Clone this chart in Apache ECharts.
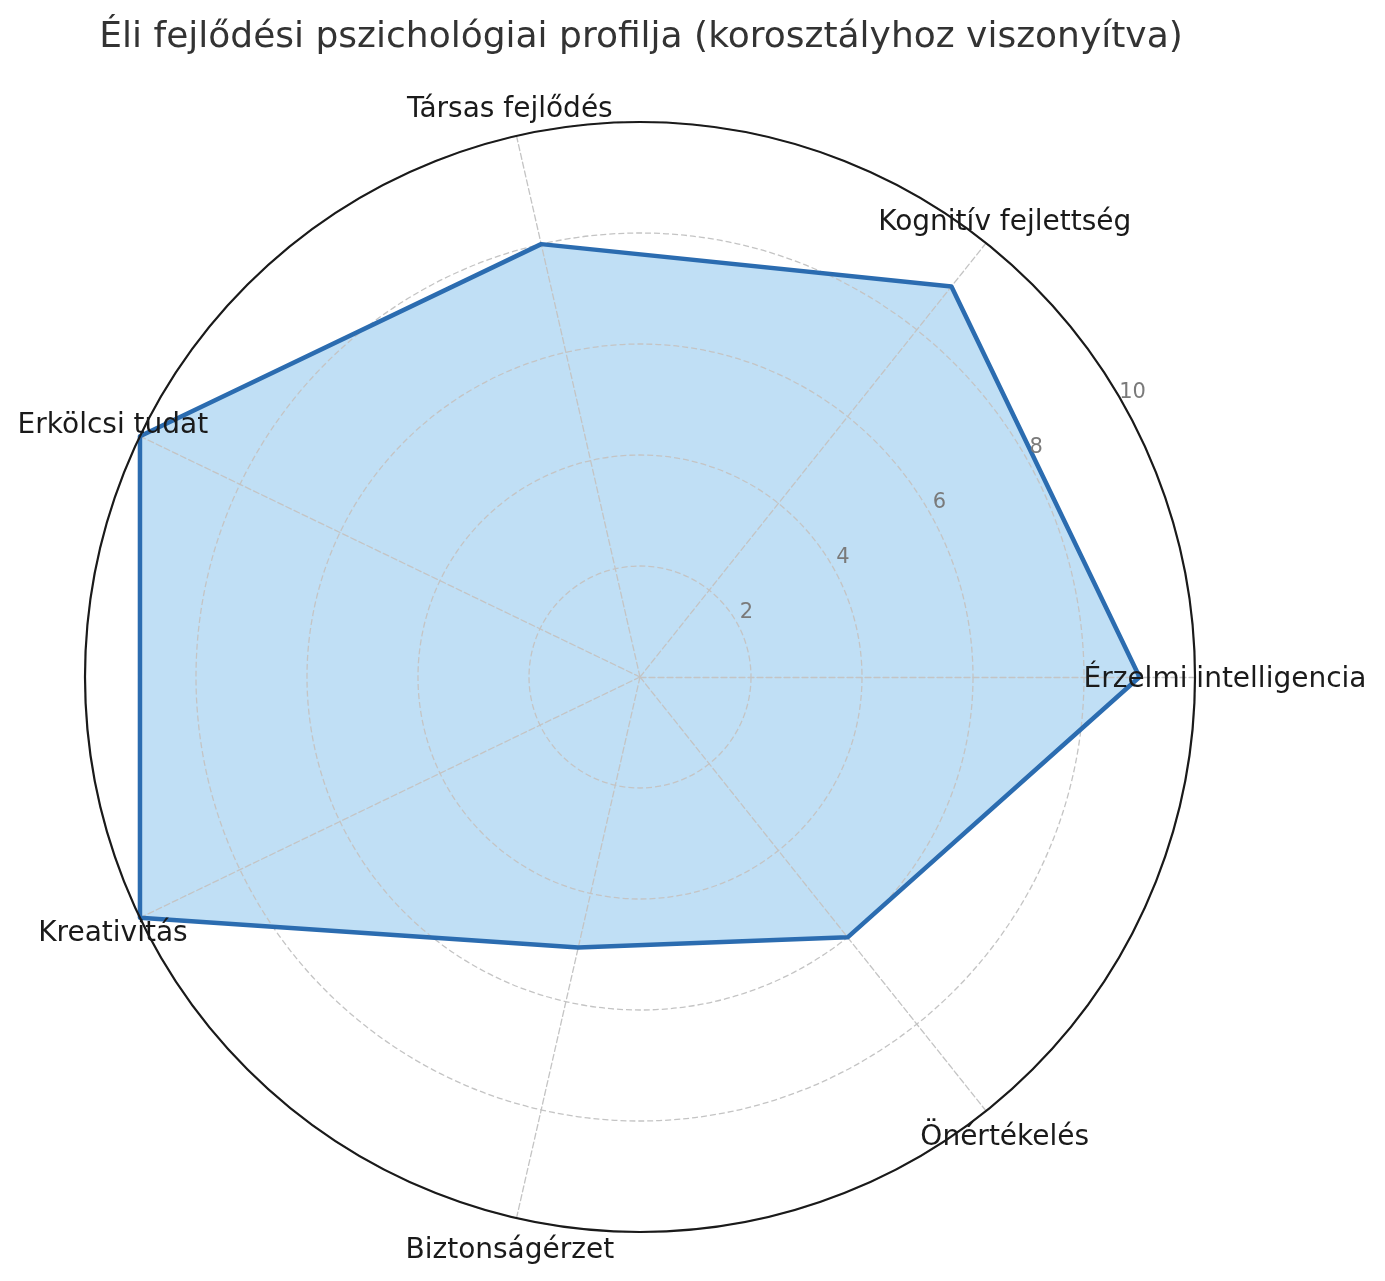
<!DOCTYPE html>
<html>
<head>
<meta charset="utf-8">
<title>Éli fejlődési pszichológiai profilja</title>
<script src="https://cdn.jsdelivr.net/npm/echarts@6/dist/echarts.min.js"></script>
<style>
  html, body { margin: 0; padding: 0; background: #ffffff; }
  #chart { width: 1385px; height: 1281px; }
</style>
</head>
<body>
<div id="chart"></div>
<script>
// Dimensions of the profile, counter-clockwise from the right-hand axis
const categories = [
  'Érzelmi intelligencia',
  'Kognitív fejlettség',
  'Társas fejlődés',
  'Erkölcsi tudat',
  'Kreativitás',
  'Biztonságérzet',
  'Önértékelés'
];
// Scores on a 0–10 scale
const scores = [9, 9, 8, 10, 10, 5, 6];
// Radial tick labels
const tickValues = [2, 4, 6, 8, 10];
const scaleMax = 10;
const tickStep = 2;

const FONT = 'DejaVu Sans';
const CENTER = ['640px', '677px'];
const RADIUS = 555;

const chart = echarts.init(document.getElementById('chart'), null, { renderer: 'canvas' });

const gridIndicators = categories.map(() => ({ name: '', min: 0, max: scaleMax }));
const namedIndicators = categories.map(name => ({ name: name, min: 0, max: scaleMax }));

const dashed = { color: '#c4c4c4', width: 1.3, type: [6, 3] };

const option = {
  backgroundColor: '#ffffff',
  animation: false,
  title: {
    text: 'Éli fejlődési pszichológiai profilja (korosztályhoz viszonyítva)',
    left: 636,
    top: 15,
    textAlign: 'center',
    textStyle: {
      fontFamily: FONT,
      fontSize: 36,
      fontWeight: 'normal',
      color: '#333333'
    }
  },
  radar: [
    {
      // dashed rings and spokes, drawn over the filled area
      indicator: gridIndicators,
      center: CENTER,
      radius: RADIUS,
      startAngle: 0,
      shape: 'circle',
      splitNumber: scaleMax / tickStep,
      z: 2,
      axisName: { show: false },
      axisLine: { show: true, lineStyle: dashed },
      splitLine: { show: true, lineStyle: dashed },
      splitArea: { show: false },
      axisTick: { show: false },
      axisLabel: { show: false }
    },
    {
      // solid outer boundary and the dimension names
      indicator: namedIndicators,
      center: CENTER,
      radius: RADIUS,
      startAngle: 0,
      shape: 'circle',
      splitNumber: 1,
      z: 4,
      nameGap: 30,
      axisName: {
        color: '#1a1a1a',
        fontFamily: FONT,
        fontSize: 28,
        align: 'center',
        verticalAlign: 'middle',
        lineHeight: 6,
        // leading empty line nudges each name slightly downward
        formatter: name => '\n' + name
      },
      axisLine: { show: false },
      splitLine: { show: true, lineStyle: { color: '#1a1a1a', width: 2.2, type: 'solid' } },
      splitArea: { show: false },
      axisTick: { show: false },
      axisLabel: { show: false }
    }
  ],
  polar: {
    center: CENTER,
    radius: RADIUS
  },
  angleAxis: {
    type: 'value',
    startAngle: 29.6,
    min: 0,
    max: 360,
    show: false
  },
  radiusAxis: {
    type: 'value',
    min: 0,
    max: scaleMax,
    interval: tickStep,
    z: 6,
    axisLine: { show: false },
    axisTick: { show: false },
    splitLine: { show: false },
    axisLabel: {
      show: true,
      margin: 0,
      align: 'center',
      verticalAlign: 'middle',
      padding: [0, 0, 0, 20],
      lineHeight: 20,
      color: '#7a7a7a',
      fontFamily: FONT,
      fontSize: 21,
      // trailing empty line lifts each number just above its ring
      formatter: v => (tickValues.indexOf(v) >= 0 ? String(v) + '\n' : '')
    }
  },
  series: [
    {
      // filled area under the grid
      type: 'radar',
      radarIndex: 0,
      symbol: 'none',
      z: 1,
      silent: true,
      lineStyle: { width: 0, opacity: 0 },
      areaStyle: { color: '#c0dff5', opacity: 1 },
      data: [{ value: scores, name: 'Éli' }]
    },
    {
      // outline above the grid
      type: 'radar',
      radarIndex: 0,
      symbol: 'none',
      z: 3,
      lineStyle: { color: '#2b6cb0', width: 4.5 },
      data: [{ value: scores, name: 'Éli' }]
    }
  ]
};

chart.setOption(option);
</script>
</body>
</html>
